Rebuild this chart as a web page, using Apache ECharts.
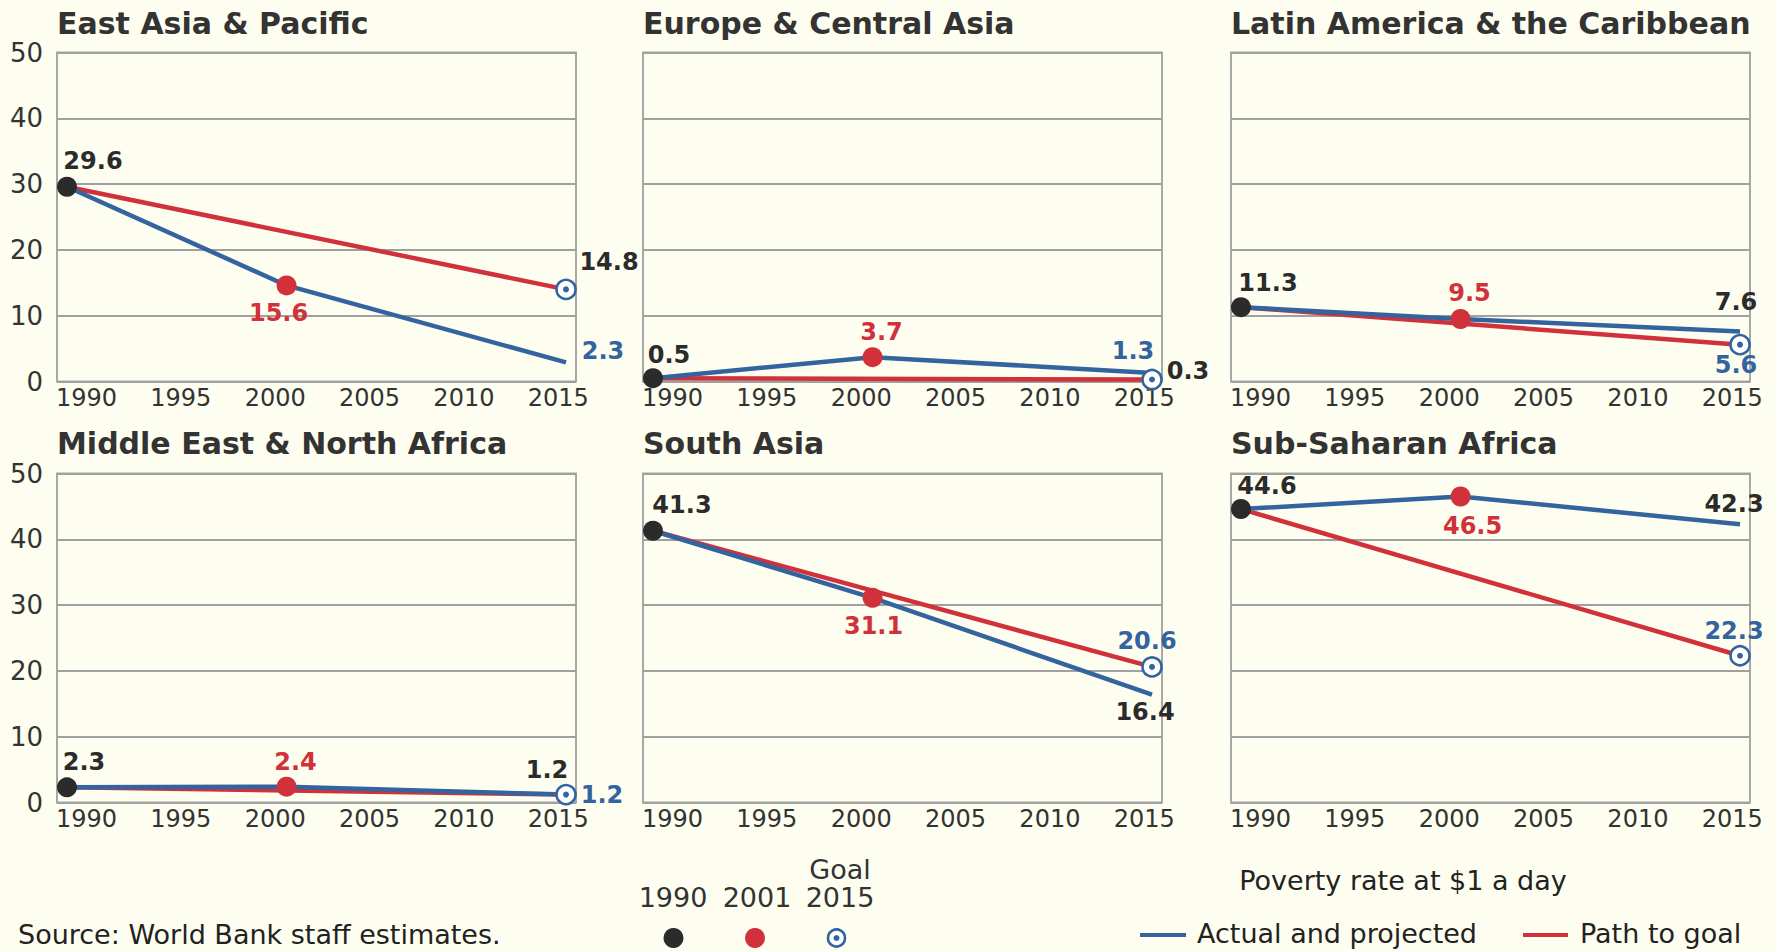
<!DOCTYPE html>
<html><head><meta charset="utf-8">
<script src="https://cdn.jsdelivr.net/npm/echarts@6/dist/echarts.min.js"></script>
<style>html,body{margin:0;padding:0;background:#fefef0;}#c{width:1776px;height:951px;}</style>
</head><body><div id="c"></div>
<script>
// ---- data ----
const regions = ['East Asia & Pacific','Europe & Central Asia','Latin America & the Caribbean','Middle East & North Africa','South Asia','Sub-Saharan Africa'];
const years = [1990, 2001, 2015];
const start1990 = [29.6, 0.5, 11.3, 2.3, 41.3, 44.6];
const mid2001 = [14.6, 3.7, 9.5, 2.4, 31.1, 46.5];
const projected2015 = [2.9, 1.3, 7.6, 1.2, 16.4, 42.3];
const goal2015 = [14.0, 0.3, 5.6, 1.2, 20.6, 22.3];
const label1990 = ['29.6','0.5','11.3','2.3','41.3','44.6'];
const label2001 = ['15.6','3.7','9.5','2.4','31.1','46.5'];
const labelGoal = ['14.8','0.3','5.6','1.2','20.6','22.3'];
const labelProjected = ['2.3','1.3','7.6','1.2','16.4','42.3'];
const xTicks = [1990, 1995, 2000, 2005, 2010, 2015];
const yTicks = [0, 10, 20, 30, 40, 50];

// ---- styles / layout ----
const DARK = '#2b2b2b', RED = '#d0313a', BLUE = '#33649f', BG = '#fefef0';
const goalLabelColor = [DARK, DARK, BLUE, BLUE, BLUE, BLUE];
const projLabelColor = [BLUE, BLUE, DARK, DARK, DARK, DARK];
const off1990 = [[26,-26],[16,-23],[27,-24],[17,-25],[29,-26],[26,-23]];
const off2001 = [[-8,28],[9,-25],[9,-26],[9,-25],[1,28],[12,29]];
const offGoal = [[43,-27],[36,-9],[-4,20],[36,0],[-5,-26],[-6,-25]];
const offProj = [[37,-11],[-19,-22],[-4,-29],[-19,-25],[-7,17],[-6,-20]];
const colLeft = [57, 643, 1231];
const rowTop = [52.5, 473.5];
const plotW = 519, plotH = 329;
const titleY = [23, 443];
const FONT = 'DejaVu Sans';

function lbl(text, color, off) {
  return {show:true, position:'inside', offset:off, formatter:text, color:color,
    fontSize:24, fontWeight:'bold', fontFamily:FONT, textBorderWidth:0,
    align:'center', verticalAlign:'middle'};
}

const grids = [], xAxes = [], yAxes = [], series = [], graphics = [];
regions.forEach((name, i) => {
  const r = Math.floor(i / 3), c = i % 3;
  grids.push({left:colLeft[c], top:rowTop[r], width:plotW, height:plotH, show:true,
    borderColor:'#a8a8a8', borderWidth:2, backgroundColor:'transparent'});
  xAxes.push({gridIndex:i, type:'value', min:1989.5, max:2015.5, position:'bottom',
    axisLine:{show:false, onZero:false}, axisTick:{show:false}, axisLabel:{show:false}, splitLine:{show:false}});
  xAxes.push({gridIndex:i, type:'value', min:1988.44, max:2015.94, position:'bottom',
    axisLine:{show:false, onZero:false}, axisTick:{show:false}, splitLine:{show:false},
    axisLabel:{show:true, margin:4, color:'#333', fontSize:24, fontFamily:FONT,
      showMinLabel:false, showMaxLabel:false,
      formatter: v => { const t = xTicks.find(k => Math.abs(k - v) < 0.01); return t === undefined ? '' : String(t); }}});
  yAxes.push({gridIndex:i, type:'value', min:yTicks[0], max:yTicks[yTicks.length-1], interval:10,
    axisLine:{show:false}, axisTick:{show:false},
    splitLine:{show:true, lineStyle:{color:'#a0a0a0', width:1.8}},
    axisLabel:{show:c === 0, margin:14, color:'#333', fontSize:26, fontFamily:FONT}});
  const xi = 2 * i, yi = i;
  series.push({type:'line', xAxisIndex:xi, yAxisIndex:yi, symbol:'none', z:2,
    data:[[years[0], start1990[i]], [years[2], goal2015[i]]],
    lineStyle:{color:RED, width:4.5}, itemStyle:{color:RED}});
  series.push({type:'line', xAxisIndex:xi, yAxisIndex:yi, symbol:'none', z:3,
    data:[[years[0], start1990[i]], [years[1], mid2001[i]], [years[2], projected2015[i]]],
    lineStyle:{color:BLUE, width:4.5}, itemStyle:{color:BLUE}});
  series.push({type:'scatter', xAxisIndex:xi, yAxisIndex:yi, z:5, symbolSize:1,
    itemStyle:{color:'rgba(0,0,0,0)', opacity:1},
    data:[{value:[years[2], projected2015[i]], label:lbl(labelProjected[i], projLabelColor[i], offProj[i])}]});
  series.push({type:'scatter', xAxisIndex:xi, yAxisIndex:yi, z:6, symbolSize:20,
    itemStyle:{color:DARK, opacity:1},
    data:[{value:[years[0], start1990[i]], label:lbl(label1990[i], DARK, off1990[i])}]});
  series.push({type:'scatter', xAxisIndex:xi, yAxisIndex:yi, z:6, symbolSize:20,
    itemStyle:{color:RED, opacity:1},
    data:[{value:[years[1], mid2001[i]], label:lbl(label2001[i], RED, off2001[i])}]});
  series.push({type:'scatter', xAxisIndex:xi, yAxisIndex:yi, z:6, symbolSize:19,
    itemStyle:{color:'#ffffff', borderColor:BLUE, borderWidth:2.6, opacity:1},
    data:[{value:[years[2], goal2015[i]], label:lbl(labelGoal[i], goalLabelColor[i], offGoal[i])}]});
  series.push({type:'scatter', xAxisIndex:xi, yAxisIndex:yi, z:7, symbolSize:6,
    itemStyle:{color:BLUE, opacity:1}, data:[[years[2], goal2015[i]]]});
  graphics.push({type:'text', x:colLeft[c], y:titleY[r],
    style:{text:name, fill:'#333', font:'bold 30px "DejaVu Sans"', align:'left', verticalAlign:'middle'}});
});

// legend / notes
const legFont = '27px "DejaVu Sans"';
graphics.push(
  {type:'text', x:18, y:934, style:{text:'Source: World Bank staff estimates.', fill:'#222', font:legFont, align:'left', verticalAlign:'middle'}},
  {type:'text', x:840, y:869, style:{text:'Goal', fill:'#333', font:legFont, align:'center', verticalAlign:'middle'}},
  {type:'text', x:673, y:897, style:{text:'1990', fill:'#333', font:legFont, align:'center', verticalAlign:'middle'}},
  {type:'text', x:757, y:897, style:{text:'2001', fill:'#333', font:legFont, align:'center', verticalAlign:'middle'}},
  {type:'text', x:840, y:897, style:{text:'2015', fill:'#333', font:legFont, align:'center', verticalAlign:'middle'}},
  {type:'circle', shape:{cx:673.5, cy:938, r:10}, style:{fill:DARK}},
  {type:'circle', shape:{cx:755, cy:938, r:10}, style:{fill:RED}},
  {type:'circle', shape:{cx:836.5, cy:938, r:8.5}, style:{fill:'#ffffff', stroke:BLUE, lineWidth:2.6}},
  {type:'circle', shape:{cx:836.5, cy:938, r:3}, style:{fill:BLUE}},
  {type:'text', x:1403, y:880, style:{text:'Poverty rate at $1 a day', fill:'#222', font:legFont, align:'center', verticalAlign:'middle'}},
  {type:'line', shape:{x1:1140, y1:935, x2:1186, y2:935}, style:{stroke:BLUE, lineWidth:4}},
  {type:'text', x:1197, y:933, style:{text:'Actual and projected', fill:'#222', font:legFont, align:'left', verticalAlign:'middle'}},
  {type:'line', shape:{x1:1523, y1:935, x2:1568, y2:935}, style:{stroke:RED, lineWidth:4}},
  {type:'text', x:1580, y:933, style:{text:'Path to goal', fill:'#222', font:legFont, align:'left', verticalAlign:'middle'}}
);

const chart = echarts.init(document.getElementById('c'), null, {renderer:'svg', width:1776, height:951});
chart.setOption({
  backgroundColor: BG,
  animation: false,
  grid: grids, xAxis: xAxes, yAxis: yAxes, series: series, graphic: graphics
});
</script></body></html>
